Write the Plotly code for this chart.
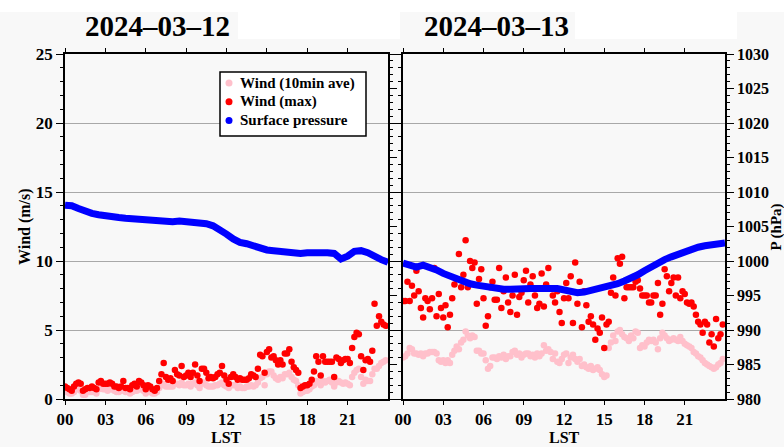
import pandas as pd
import plotly.graph_objects as go

W, H = 784, 447
SERIF = "Liberation Serif"

# ---------------- data ----------------
dates = ["2024-03-12", "2024-03-13"]
tick_hours = [0, 3, 6, 9, 12, 15, 18, 21]
tick_text = ["00", "03", "06", "09", "12", "15", "18", "21"]

# 10-minute wind (m/s)
wind_max_0312 = [
    0.9, 0.8, 0.7, 0.6, 0.9, 1.1,  1.2, 1.1, 0.6, 0.7, 0.8, 0.8,
    0.9, 0.8, 0.7, 1.2, 1.3, 1.1,  1.1, 1.1, 1.2, 1.1, 0.9, 0.9,
    0.8, 0.9, 1.3, 0.8, 0.8, 0.7,  1.0, 1.1, 0.9, 1.3, 1.2, 1.0,
    0.7, 1.0, 0.9, 0.7, 0.6, 0.8,  1.3, 1.8, 2.6, 1.6, 1.4, 1.5,
    1.3, 2.1, 1.8, 1.7, 2.4, 1.6,  1.7, 1.9, 1.6, 1.9, 2.5, 1.7,
    1.3, 2.2, 2.2, 1.9, 1.5, 1.6,  1.5, 1.6, 1.8, 1.9, 2.4, 1.7,
    1.4, 1.1, 1.6, 1.8, 1.6, 1.4,  1.5, 1.4, 1.4, 1.4, 1.5, 1.8,
    1.7, 1.6, 2.2, 3.2, 3.1, 1.9,  3.4, 3.6, 3.0, 3.1, 2.8, 2.5,
    2.8, 2.5, 3.3, 3.3, 3.6, 2.7,  2.3, 2.1, 1.9, 0.8, 0.9, 1.0,
    1.0, 1.1, 1.4, 2.0, 3.1, 2.7,  1.7, 3.1, 2.7, 2.7, 2.7, 2.7,
    1.6, 3.0, 2.9, 2.6, 2.8, 2.9,  2.9, 2.6, 3.7, 4.5, 4.8, 4.7,
    3.1, 2.1, 2.8, 2.9, 2.7, 3.5,  6.9, 5.3, 6.0, 5.6, 5.4, 5.3,
]
wind_ave_0312 = [
    0.6, 0.5, 0.4, 0.4, 0.5, 0.7,  0.7, 0.6, 0.3, 0.3, 0.5, 0.5,
    0.5, 0.5, 0.4, 0.7, 0.8, 0.7,  0.7, 0.6, 0.7, 0.7, 0.6, 0.5,
    0.5, 0.6, 0.7, 0.5, 0.5, 0.4,  0.5, 0.6, 0.6, 0.7, 0.7, 0.6,
    0.4, 0.6, 0.5, 0.4, 0.4, 0.5,  0.8, 1.0, 1.1, 0.9, 0.9, 0.9,
    0.9, 1.1, 1.1, 1.0, 1.2, 1.0,  1.0, 1.1, 0.9, 1.1, 1.2, 1.0,
    0.8, 1.1, 1.2, 1.0, 0.9, 0.9,  0.9, 1.0, 1.0, 1.1, 1.2, 1.0,
    0.9, 0.8, 1.0, 1.0, 1.0, 0.8,  0.9, 0.8, 0.8, 0.9, 0.9, 1.0,
    0.9, 1.0, 1.2, 1.5, 1.6, 1.0,  1.8, 2.0, 2.0, 1.7, 1.5, 1.4,
    1.6, 1.5, 1.8, 1.8, 1.9, 1.6,  1.4, 1.3, 1.0, 0.4, 0.5, 0.6,
    0.6, 0.7, 0.9, 1.0, 1.3, 1.2,  1.0, 1.3, 1.2, 1.3, 1.4, 1.2,
    0.9, 1.2, 1.3, 1.2, 1.1, 1.2,  1.1, 1.0, 1.6, 1.9, 2.1, 2.2,
    1.6, 1.1, 1.4, 1.3, 1.3, 1.8,  2.2, 2.2, 2.4, 2.6, 2.7, 2.8,
]
wind_max_0313 = [
    7.1, 7.1, 8.5, 7.1, 8.2, 7.5,  9.3, 7.8, 6.6, 5.9, 7.3, 7.1,
    6.5, 7.3, 9.5, 6.0, 7.6, 6.6,  5.9, 6.8, 5.2, 6.1, 7.3, 8.3,
    8.7, 10.5, 8.1, 9.0, 11.5, 8.1,  10.0, 9.5, 9.9, 6.9, 8.7, 9.4,
    7.3, 5.3, 6.0, 8.1, 8.5, 7.2,  7.2, 9.5, 6.6, 7.8, 8.8, 7.0,
    6.3, 7.5, 9.0, 6.1, 7.4, 7.7,  8.6, 9.3, 7.0, 8.3, 8.9, 7.5,
    6.6, 6.9, 9.1, 6.7, 8.3, 9.5,  8.0, 7.5, 7.0, 7.8, 6.3, 5.5,
    7.3, 8.4, 7.3, 8.9, 5.5, 9.9,  6.9, 8.5, 5.2, 7.8, 6.8, 5.6,
    6.0, 5.4, 4.3, 5.1, 4.8, 5.9,  3.7, 5.4, 5.6, 7.7, 8.8, 7.5,
    10.2, 9.8, 10.3, 7.3, 8.1, 8.1,  8.1, 8.1, 8.5, 8.6, 8.0, 7.5,
    7.5, 7.5, 7.0, 7.0, 7.5, 7.5,  8.4, 6.1, 6.9, 9.4, 8.9, 7.8,
    8.4, 8.8, 7.5, 8.8, 7.3, 7.8,  7.6, 7.0, 6.9, 7.0, 6.7, 6.1,
    5.6, 5.4, 4.8, 5.6, 5.4, 4.1,  4.7, 3.8, 5.8, 4.4, 4.7, 5.4,
]
wind_ave_0313 = [
    3.0, 3.1, 3.3, 3.7, 3.6, 3.3,  3.3, 3.2, 3.3, 3.1, 3.3, 3.3,
    3.4, 3.4, 3.4, 3.3, 2.8, 2.7,  2.8, 2.6, 2.8, 2.6, 3.2, 3.5,
    3.8, 3.6, 4.1, 4.3, 4.9, 4.6,  4.4, 4.6, 4.5, 3.5, 3.5, 3.3,
    3.3, 2.8, 2.2, 2.4, 3.0, 3.0,  2.9, 3.1, 3.0, 3.2, 2.9, 3.1,
    3.1, 3.4, 3.5, 3.2, 3.3, 3.0,  3.2, 3.3, 3.3, 3.1, 3.2, 3.0,
    3.3, 3.1, 3.3, 3.9, 3.5, 3.6,  3.4, 2.9, 3.3, 2.7, 2.6, 2.9,
    3.2, 3.3, 2.6, 3.0, 3.2, 2.9,  2.7, 2.9, 2.4, 2.5, 2.3, 2.2,
    2.4, 2.1, 2.2, 2.3, 2.1, 1.8,  1.6, 1.7, 3.7, 4.1, 4.6, 4.2,
    4.9, 5.0, 4.7, 4.5, 4.4, 4.2,  4.6, 4.4, 4.9, 4.8, 3.7, 3.9,
    3.8, 4.1, 4.3, 4.2, 4.3, 4.1,  3.6, 4.4, 4.8, 4.6, 4.4, 4.2,
    4.3, 4.4, 4.3, 4.2, 4.5, 4.2,  4.0, 3.9, 3.8, 3.7, 3.4, 3.3,
    3.1, 3.0, 2.8, 2.6, 2.5, 2.4,  2.3, 2.2, 2.3, 2.5, 2.6, 2.9,
]

# 30-minute surface pressure (hPa), 00:00 to 24:00
pres_0312 = [
    1008.1, 1008.0, 1007.6, 1007.2, 1006.9, 1006.7, 1006.5, 1006.4, 1006.3, 1006.2,
    1006.1, 1006.1, 1006.0, 1006.0, 1005.9, 1005.8, 1005.7, 1005.8, 1005.7, 1005.7,
    1005.5, 1005.4, 1005.1, 1004.6, 1003.9, 1003.2, 1002.7, 1002.5, 1002.2, 1001.8,
    1001.6, 1001.5, 1001.4, 1001.3, 1001.1, 1001.1, 1001.2, 1001.3, 1001.2, 1001.2,
    1001.1, 1000.3, 1000.7, 1001.4, 1001.5, 1001.2, 1000.6, 1000.2, 999.8,
]
pres_0313 = [
    999.7, 999.3, 999.1, 999.4, 999.1, 998.7, 998.2, 997.8, 997.4, 997.0,
    996.7, 996.5, 996.3, 996.1, 995.9, 995.9, 995.9, 996.0, 996.0, 996.0,
    996.0, 996.1, 996.0, 996.0, 995.8, 995.5, 995.4, 995.5, 995.7, 995.9,
    996.1, 996.4, 996.7, 997.1, 997.5, 998.0, 998.6, 999.2, 999.7, 1000.2,
    1000.6, 1001.0, 1001.4, 1001.7, 1002.0, 1002.2, 1002.3, 1002.5, 1002.6,
]

# ---------------- helpers ----------------
def px(x):
    return x / W

def py(y):
    return 1 - y / H

def ts(date, n, freq):
    return pd.date_range(f"{date} 00:00", periods=n, freq=freq)

PINK, RED, BLUE = "#ffc0cb", "#ff0000", "#0000ff"

fig = go.Figure()
panels = [
    (dates[0], wind_ave_0312, wind_max_0312, pres_0312, "x", "y", "y2"),
    (dates[1], wind_ave_0313, wind_max_0313, pres_0313, "x2", "y3", "y4"),
]
for d, ave, mx, pr, xa, ya, pa in panels:
    t10 = ts(d, len(ave), "10min")
    t30 = ts(d, len(pr), "30min")
    fig.add_trace(go.Scatter(x=t10, y=ave, mode="markers", xaxis=xa, yaxis=ya,
                             marker=dict(color=PINK, size=6.5), showlegend=False,
                             name="Wind (10min ave)"))
    fig.add_trace(go.Scatter(x=t10, y=mx, mode="markers", xaxis=xa, yaxis=ya,
                             marker=dict(color=RED, size=6.5), showlegend=False,
                             name="Wind (max)"))
    fig.add_trace(go.Scatter(x=t30, y=pr, mode="lines", xaxis=xa, yaxis=pa,
                             line=dict(color=BLUE, width=7), showlegend=False,
                             name="Surface pressure"))

tickfont = dict(family=SERIF, size=17, color="black", weight="bold")
ydom = [py(399), py(54)]

def xaxis(date, dom):
    return dict(
        domain=dom, type="date",
        range=[f"{date} 00:00", f"{date} 23:59:59"],
        tickvals=[f"{date} {h:02d}:00" for h in tick_hours], ticktext=tick_text,
        showline=True, linecolor="black", linewidth=1.5, mirror="ticks",
        ticks="outside", ticklen=4, tickcolor="black", tickwidth=1,
        showgrid=False, zeroline=False, tickfont=tickfont, automargin=False,
    )

def yaxis(**kw):
    base = dict(
        domain=ydom, showline=True, linecolor="black", linewidth=1.5,
        ticks="outside", ticklen=7, tickcolor="black", tickwidth=1,
        zeroline=False, tickfont=tickfont, automargin=False,
    )
    base.update(kw)
    return base

fig.update_layout(
    width=W, height=H,
    margin=dict(l=0, r=0, t=0, b=0),
    paper_bgcolor="#f8f8f8", plot_bgcolor="#f8f8f8",
    showlegend=False,
    xaxis=xaxis(dates[0], [px(65), px(388)]),
    xaxis2=xaxis(dates[1], [px(403), px(725)]),
    yaxis=yaxis(anchor="x", side="left", range=[0, 25], dtick=5, tick0=0,
                showgrid=True, gridcolor="#a8a8a8", gridwidth=1,
                minor=dict(dtick=1, ticks="outside", ticklen=3, tickcolor="black", showgrid=False)),
    yaxis2=yaxis(anchor="x", overlaying="y", side="right", range=[980, 1030], dtick=5, tick0=980,
                 showgrid=False, showticklabels=False,
                 minor=dict(dtick=1, ticks="outside", ticklen=3, tickcolor="black", showgrid=False)),
    yaxis3=yaxis(anchor="x2", side="left", range=[0, 25], dtick=5, tick0=0,
                 showgrid=True, gridcolor="#a8a8a8", gridwidth=1, showticklabels=False,
                 minor=dict(dtick=1, ticks="outside", ticklen=3, tickcolor="black", showgrid=False)),
    yaxis4=yaxis(anchor="x2", overlaying="y3", side="right", range=[980, 1030], dtick=5, tick0=980,
                 showgrid=False, tickfont=dict(family=SERIF, size=16, color="black", weight="bold"),
                 minor=dict(dtick=1, ticks="outside", ticklen=3, tickcolor="black", showgrid=False)),
)

# background patches (white strips around titles)
shapes = []
for (x0, y0, x1, y1) in [(0, 0, 784, 12), (238, 12, 400, 39), (575, 12, 737, 39)]:
    shapes.append(dict(type="rect", xref="paper", yref="paper",
                       x0=px(x0), x1=px(x1), y0=py(y1), y1=py(y0),
                       fillcolor="white", line=dict(width=0), layer="below"))

# custom legend
leg_items = [("Wind (10min ave)", PINK), ("Wind (max)", RED), ("Surface pressure", BLUE)]
shapes.append(dict(type="rect", xref="paper", yref="paper",
                   x0=px(220), x1=px(366), y0=py(136), y1=py(72),
                   fillcolor="white", line=dict(color="black", width=1.5)))
annotations = []
for i, (label, col) in enumerate(leg_items):
    yc = 83 + i * 18.7
    shapes.append(dict(type="circle", xref="paper", yref="paper",
                       xsizemode="pixel", ysizemode="pixel",
                       xanchor=px(229), yanchor=py(yc),
                       x0=-3.5, x1=3.5, y0=-3.5, y1=3.5,
                       fillcolor=col, line=dict(width=0)))
    annotations.append(dict(text=label, xref="paper", yref="paper",
                            x=px(238), y=py(yc), xanchor="left", yanchor="middle",
                            showarrow=False,
                            font=dict(family=SERIF, size=15, color="black", weight="bold")))

# titles and axis titles
for text, xc in [("2024\u201303\u201312", 157), ("2024\u201303\u201313", 496)]:
    annotations.append(dict(text=text, xref="paper", yref="paper", x=px(xc), y=py(26),
                            xanchor="center", yanchor="middle", showarrow=False,
                            font=dict(family=SERIF, size=29, color="black", weight="bold")))
for xc in [226, 564]:
    annotations.append(dict(text="LST", xref="paper", yref="paper", x=px(xc), y=py(437),
                            xanchor="center", yanchor="middle", showarrow=False,
                            font=dict(family=SERIF, size=16, color="black", weight="bold")))
annotations.append(dict(text="Wind (m/s)", xref="paper", yref="paper", x=px(25), y=py(227),
                        xanchor="center", yanchor="middle", showarrow=False, textangle=-90,
                        font=dict(family=SERIF, size=16, color="black", weight="bold")))
annotations.append(dict(text="P (hPa)", xref="paper", yref="paper", x=px(775.5), y=py(227),
                        xanchor="center", yanchor="middle", showarrow=False, textangle=-90,
                        font=dict(family=SERIF, size=15, color="black", weight="bold")))

fig.update_layout(shapes=shapes, annotations=annotations)
fig.write_html(
    "out.html",
    config={"displayModeBar": False},
    post_script="document.body.style.margin='0px';document.body.style.overflow='hidden';",
)
